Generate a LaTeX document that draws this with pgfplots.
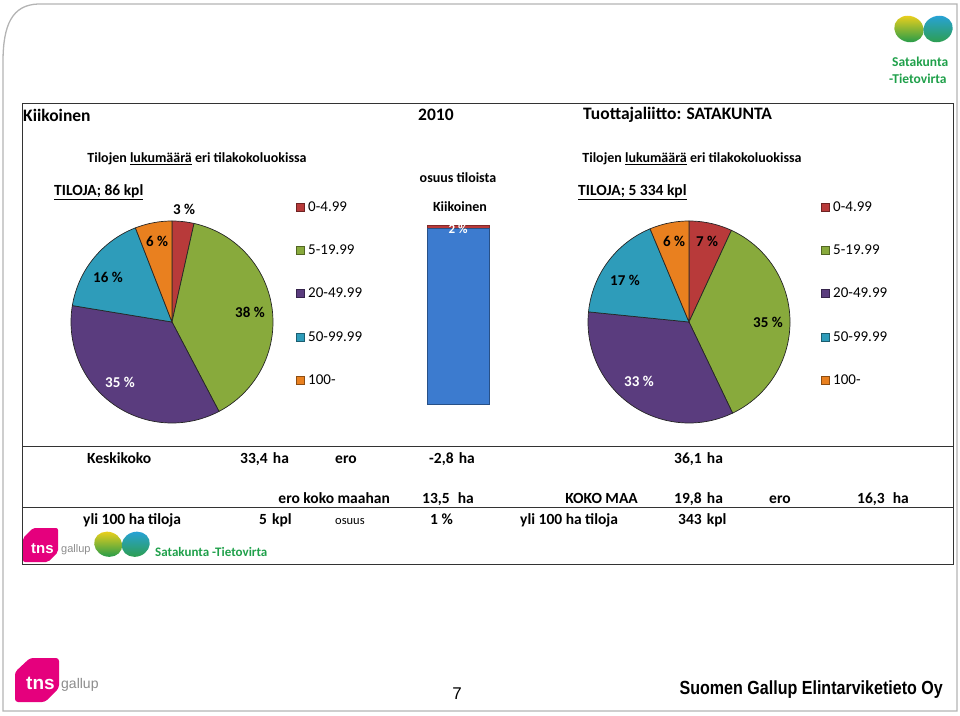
\documentclass[border=0pt]{standalone}
\usepackage{pgfplots}
\pgfplotsset{compat=1.18}
\usepackage{pgfplotstable}
\usepackage{fontspec}
\usepackage{graphicx}
\setmainfont{Carlito}
\newfontfamily\arialf{Liberation Sans}
\definecolor{pRed}{HTML}{B83A3A}
\definecolor{pGreen}{HTML}{88AA3C}
\definecolor{pPurple}{HTML}{5A3C7E}
\definecolor{pTeal}{HTML}{2E9CBA}
\definecolor{pOrange}{HTML}{E9801F}
\colorlet{pie0}{pRed}
\colorlet{pie1}{pGreen}
\colorlet{pie2}{pPurple}
\colorlet{pie3}{pTeal}
\colorlet{pie4}{pOrange}
\definecolor{barBlue}{HTML}{3C7BCF}
\definecolor{stGreen}{HTML}{1FA04A}
\definecolor{tnsPink}{HTML}{E5007D}
\definecolor{frameGray}{HTML}{B4B4B4}
\definecolor{logoYellow}{HTML}{F6D21A}
\definecolor{logoGreen}{HTML}{2E9E48}
\definecolor{logoBlue}{HTML}{27A2DE}

% share of farms per size class (%), Kiikoinen and Satakunta
\pgfplotstableread{
class    pct
0-4.99   3.5
5-19.99  38.8
20-49.99 35.3
50-99.99 16.5
100-     5.9
}\leftpie
\pgfplotstableread{
class    pct
0-4.99   6.9
5-19.99  36.0
20-49.99 33.7
50-99.99 17.1
100-     6.3
}\rightpie
% Kiikoinen share of all farms in Satakunta (%)
\pgfplotstableread{
x rest share
0 98.4 1.6
}\sharetbl

\newcommand\drawpie[1]{%
  \def\cum{0}%
  \pgfplotsforeachungrouped \pi in {0,...,4}{%
    \pgfplotstablegetelem{\pi}{pct}\of#1%
    \let\pv\pgfplotsretval
    \pgfmathsetmacro\aend{90-3.6*\cum}%
    \pgfmathsetmacro\cum{\cum+\pv}%
    \pgfmathsetmacro\astart{90-3.6*\cum}%
    \edef\temp{\noexpand\addplot[fill=pie\pi, draw=black!85, line width=0.7pt,
      domain=\astart:\aend, samples=80, variable=\noexpand\tt]
      ({cos(\noexpand\tt)},{sin(\noexpand\tt)}) -- (axis cs:0,0) -- cycle;}%
    \temp
  }%
}

\newcommand\stlogo[3]{% x, y (top-left), scale
  \begin{scope}[shift={(#1,-#2)}, scale=#3]
    \shade[top color=logoYellow, bottom color=logoGreen, rotate around={-20:(16,-15)}] (16,-15) ellipse [x radius=15, y radius=13];
    \shade[top color=logoBlue, bottom color=logoGreen, rotate around={20:(45,-15)}] (45,-15) ellipse [x radius=15, y radius=13];
    \fill[white] (27,0) -- (30.5,-9) -- (34,0) -- cycle;
  \end{scope}}

\tikzset{
  hdr/.style={inner sep=0, font=\fontsize{17.5}{20}\selectfont\bfseries},
  ttl/.style={inner sep=0, font=\fontsize{14}{17}\selectfont\bfseries},
  tl/.style={inner sep=0, font=\fontsize{15.5}{18}\selectfont\bfseries},
  lg/.style={inner sep=0, font=\fontsize{15}{18}\selectfont},
  pl/.style={inner sep=0, font=\fontsize{15}{18}\selectfont\bfseries},
  tb/.style={inner sep=0, anchor=base west, font=\fontsize{15.5}{18}\selectfont\bfseries},
}

\begin{document}
\begin{tikzpicture}[x=1pt,y=1pt]
\useasboundingbox (0,0) rectangle (960,-715);
% ---------- middle bar ----------
\begin{axis}[at={(427pt,-404pt)}, anchor=south west, width=62pt, height=179pt,
  scale only axis, xmin=-0.5, xmax=0.5, ymin=0, ymax=100, hide axis,
  ybar stacked, bar width=62pt, clip=false]
  \addplot[fill=barBlue, draw=barBlue!65!black, line width=0.6pt] table[x=x, y=rest] {\sharetbl};
  \addplot[fill=pRed, draw=pRed!70!black, line width=0.4pt] table[x=x, y=share] {\sharetbl};
\end{axis}
\node[inner sep=0, text=white, font=\fontsize{13}{15}\selectfont\bfseries] at (458,-229) {2 \%};
\node[ttl] at (458,-178) {osuus tiloista};
\node[ttl] at (460,-207) {Kiikoinen};

% outer frame
\draw[frameGray, line width=1.3pt] (3,-62) .. controls (3,-25) and (12,-5) .. (38,-4) -- (957,-4) -- (957,-711) -- (3,-711) -- cycle;
% top-right logo
\stlogo{893}{14}{1.0}
\node[anchor=west, inner sep=0, text=stGreen, font=\fontsize{13.5}{16}\selectfont\bfseries] at (892,-62) {Satakunta};
\node[anchor=west, inner sep=0, text=stGreen, font=\fontsize{13.5}{16}\selectfont\bfseries] at (889,-79) {-Tietovirta};
% inner box and table lines
\draw[black!80, line width=0.9pt] (22,-103) rectangle (953,-564);
\draw[black!80, line width=0.9pt] (22,-446) -- (953,-446);
\draw[black!80, line width=0.9pt] (22,-507) -- (953,-507);
% header
\node[hdr, anchor=west] at (23,-115) {Kiikoinen};
\node[hdr, anchor=west] at (418,-115) {2010};
\node[hdr, anchor=west] at (583,-115) {Tuottajaliitto: SATAKUNTA};

% ---------- left pie ----------
\node[ttl] at (197,-159) {Tilojen \underline{lukumäärä} eri tilakokoluokissa};
\node[tl, anchor=west] at (54,-192) {\underline{TILOJA; 86 kpl}};
\begin{axis}[at={(172pt,-322pt)}, anchor=center, width=202pt, height=202pt,
  scale only axis, xmin=-1, xmax=1, ymin=-1, ymax=1, hide axis, clip=false]
  \drawpie\leftpie
\end{axis}
\node[pl] at (184,-209) {3 \%};
\node[pl] at (157,-241) {6 \%};
\node[pl] at (108,-277) {16 \%};
\node[pl] at (250,-312) {38 \%};
\node[pl, text=white] at (120,-382) {35 \%};
% left legend
\foreach \lc/\lt/\ly in {pRed/0-4.99/207, pGreen/5-19.99/250, pPurple/20-49.99/293, pTeal/50-99.99/337, pOrange/100-/380}{
  \fill[\lc, draw=\lc!60!black, line width=0.4pt] (296,-\ly+4) rectangle (304,-\ly-4);
  \node[lg, anchor=west] at (308,-\ly) {\lt};
}

% ---------- right pie ----------
\node[ttl] at (692,-159) {Tilojen \underline{lukumäärä} eri tilakokoluokissa};
\node[tl, anchor=west] at (578,-192) {\underline{TILOJA; 5 334 kpl}};
\begin{axis}[at={(689pt,-322pt)}, anchor=center, width=202pt, height=202pt,
  scale only axis, xmin=-1, xmax=1, ymin=-1, ymax=1, hide axis, clip=false]
  \drawpie\rightpie
\end{axis}
\node[pl] at (674,-241) {6 \%};
\node[pl] at (707,-241) {7 \%};
\node[pl] at (625,-280) {17 \%};
\node[pl] at (768,-322) {35 \%};
\node[pl, text=white] at (639,-381) {33 \%};
\foreach \lc/\lt/\ly in {pRed/0-4.99/207, pGreen/5-19.99/250, pPurple/20-49.99/293, pTeal/50-99.99/337, pOrange/100-/380}{
  \fill[\lc, draw=\lc!60!black, line width=0.4pt] (821,-\ly+4) rectangle (829,-\ly-4);
  \node[lg, anchor=west] at (833,-\ly) {\lt};
}

% ---------- table ----------
\node[tb] at (87,-463) {Keskikoko};
\node[tb] at (240,-463) {33,4\,\,ha};
\node[tb] at (335,-463) {ero};
\node[tb] at (429,-463) {-2,8\,\,ha};
\node[tb] at (674,-463) {36,1\,\,ha};

\node[tb, anchor=base east] at (390,-503) {ero koko maahan};
\node[tb] at (422,-503) {13,5\hspace{8pt}ha};
\node[tb, anchor=base east] at (638,-503) {KOKO MAA};
\node[tb] at (674,-503) {19,8\,\,ha};
\node[tb] at (769,-503) {ero};
\node[tb] at (857,-503) {16,3\hspace{8pt}ha};

\node[tb] at (83,-524) {yli 100 ha tiloja};
\node[tb] at (259,-524) {5\,\,kpl};
\node[inner sep=0, anchor=base west, font=\fontsize{12.5}{15}\selectfont] at (335,-524) {osuus};
\node[tb] at (430,-524) {1 \%};
\node[tb] at (520,-524) {yli 100 ha tiloja};
\node[tb] at (678,-524) {343\,\,kpl};

% logos row
\fill[tnsPink, rounded corners=2pt] (23,-538) -- (33,-528) -- (58,-528) -- (58,-552) -- (48,-562) -- (23,-562) -- cycle;
\node[inner sep=0, anchor=west, text=white, font=\arialf\fontsize{15}{17}\selectfont\bfseries] at (31,-549) {tns};
\node[inner sep=0, anchor=west, text=black!45, font=\arialf\fontsize{11}{13}\selectfont] at (61,-550) {gallup};
\stlogo{93}{530}{0.95}
\node[inner sep=0, anchor=west, text=stGreen, font=\fontsize{13}{15}\selectfont\bfseries] at (155,-552) {Satakunta -Tietovirta};

% footer
\fill[tnsPink, rounded corners=3pt] (15,-672) -- (30,-658) -- (59,-658) -- (59,-688) -- (45,-702) -- (15,-702) -- cycle;
\node[inner sep=0, anchor=west, text=white, font=\arialf\fontsize{19}{21}\selectfont\bfseries] at (26,-683) {tns};
\node[inner sep=0, anchor=west, text=black!45, font=\arialf\fontsize{14}{16}\selectfont] at (61,-685) {gallup};
\node[inner sep=0, font=\arialf\fontsize{17}{20}\selectfont] at (457,-694) {7};
\node[inner sep=0, anchor=east] at (943,-690) {\scalebox{0.845}[1]{\arialf\bfseries\fontsize{19}{22}\selectfont Suomen Gallup Elintarviketieto Oy}};
\end{tikzpicture}
\end{document}
